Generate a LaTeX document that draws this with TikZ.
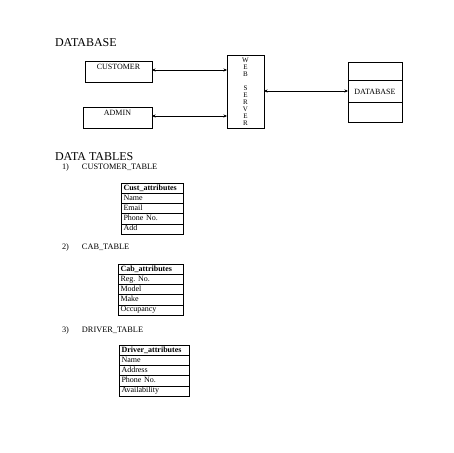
\documentclass[tikz,border=0pt]{standalone}
\usepackage{fontspec}
\setmainfont{Liberation Serif}
\usetikzlibrary{positioning,arrows.meta}

\begin{document}
\begin{tikzpicture}[x=1pt,y=-1pt,
    >={Stealth[length=3.5pt,width=3pt]},
    every node/.style={outer sep=0pt},
    heading/.style={anchor=west,inner sep=0pt,font=\fontsize{12}{14}\selectfont},
    listlabel/.style={anchor=west,inner sep=0pt,font=\fontsize{8.3}{10}\selectfont},
    clientbox/.style={draw,minimum width=67pt,inner ysep=2pt,text height=6pt,text depth=11pt,font=\fontsize{8}{10}\selectfont,anchor=north west},
    attrrow/.style={draw,anchor=north west,align=left,inner xsep=2.5pt,inner ysep=0pt,minimum height=10.2pt,text height=6pt,text depth=2pt,font=\fontsize{8}{10}\selectfont}
  ]
  \useasboundingbox (0,0) rectangle (453,453);

  \node[heading] (dbhead) at (55,43) {DATABASE};

  \node[clientbox] (cust) at (85,61) {CUSTOMER};
  \node[clientbox,minimum width=69pt] (admin) at (83,107) {ADMIN};

  \node[draw,anchor=north west,minimum width=37pt,minimum height=68pt,align=center,
        font=\fontsize{7}{6.9}\selectfont] (web) at (227,55)
        {W\\E\\B\\[6.9pt]S\\E\\R\\V\\E\\R};

  \node[draw,anchor=north west,minimum width=54pt,minimum height=60pt,
        font=\fontsize{8}{10}\selectfont] (db) at (348,62) {DATABASE};
  \draw ([yshift=-18pt]db.north west) -- ([yshift=-18pt]db.north east);
  \draw ([yshift=20pt]db.south west) -- ([yshift=20pt]db.south east);

  \draw[<->] ([yshift=1.5pt]cust.east) -- ([yshift=1.5pt]cust.east -| web.west);
  \draw[<->] ([yshift=1.5pt]admin.east) -- ([yshift=1.5pt]admin.east -| web.west);
  \draw[<->] ([yshift=1pt]web.east |- db.west) -- ([yshift=1pt]db.west);

  %%%%%%%%%% DATA TABLES %%%%%%%%%%
  \node[heading] (tblhead) at (55,157) {DATA TABLES};

  \node[listlabel] (l1) at (62,168) {\makebox[20pt][l]{1)}CUSTOMER\_TABLE};
  \node[attrrow,text width=57pt] (c0) at (121,183) {\textbf{Cust\_attributes}};
  \node[attrrow,text width=57pt,below=0pt of c0] (c1) {Name};
  \node[attrrow,text width=57pt,below=0pt of c1] (c2) {Email};
  \node[attrrow,text width=57pt,below=0pt of c2] (c3) {Phone No.};
  \node[attrrow,text width=57pt,below=0pt of c3] (c4) {Add};

  \node[listlabel] (l2) at (62,248) {\makebox[20pt][l]{2)}CAB\_TABLE};
  \node[attrrow,text width=60pt] (k0) at (118,264) {\textbf{Cab\_attributes}};
  \node[attrrow,text width=60pt,below=0pt of k0] (k1) {Reg.\ No.};
  \node[attrrow,text width=60pt,below=0pt of k1] (k2) {Model};
  \node[attrrow,text width=60pt,below=0pt of k2] (k3) {Make};
  \node[attrrow,text width=60pt,below=0pt of k3] (k4) {Occupancy};

  \node[listlabel] (l3) at (62,330) {\makebox[20pt][l]{3)}DRIVER\_TABLE};
  \node[attrrow,text width=65pt] (d0) at (119,345) {\textbf{Driver\_attributes}};
  \node[attrrow,text width=65pt,below=0pt of d0] (d1) {Name};
  \node[attrrow,text width=65pt,below=0pt of d1] (d2) {Address};
  \node[attrrow,text width=65pt,below=0pt of d2] (d3) {Phone No.};
  \node[attrrow,text width=65pt,below=0pt of d3] (d4) {Availability};
\end{tikzpicture}
\end{document}
